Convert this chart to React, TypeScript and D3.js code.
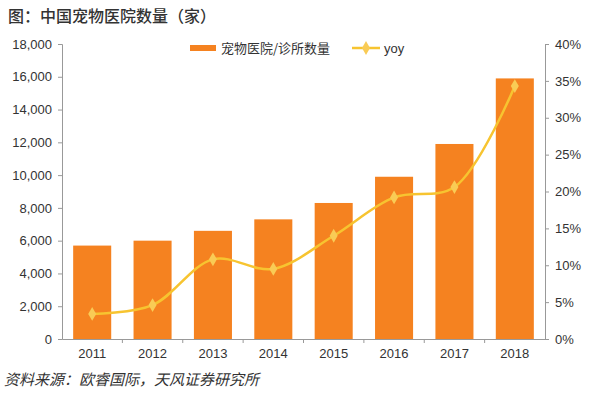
import React, { useEffect, useRef } from 'react';
import * as d3 from 'd3';

const years = ['2011', '2012', '2013', '2014', '2015', '2016', '2017', '2018'];
const hospitals = [5700, 6000, 6600, 7300, 8300, 9900, 11900, 15900];
const yoy = [3.4, 4.6, 10.8, 9.5, 14.0, 19.2, 20.6, 34.3];
const leftTicks = [0, 2000, 4000, 6000, 8000, 10000, 12000, 14000, 16000, 18000];
const rightTicks = [0, 5, 10, 15, 20, 25, 30, 35, 40];

const W = 600;
const H = 394;
const FONT = '"Noto Sans CJK SC", "Liberation Sans", Arial, sans-serif';
const NUM_FONT = '"Liberation Sans", Arial, sans-serif';

const App: React.FC = () => {
  const svgRef = useRef<SVGSVGElement | null>(null);

  useEffect(() => {
    if (!svgRef.current) return;
    const svg = d3.select(svgRef.current);
    svg.selectAll('*').remove();

    const left = 62;
    const right = 545;
    const top = 44;
    const bottom = 339;

    const x = d3.scaleBand<string>().domain(years).range([left, right]).paddingInner(0.37).paddingOuter(0.185);
    const xb = d3.scaleBand<string>().domain(years).range([left, right]);
    const y = d3.scaleLinear().domain([0, 18000]).range([bottom, top]);
    const y2 = d3.scaleLinear().domain([0, 40]).range([bottom, top]);

    // title
    svg.append('text')
      .attr('x', 8).attr('y', 22)
      .attr('font-size', 16).attr('fill', '#333')
      .attr('font-weight', 500)
      .attr('font-family', FONT)
      .text('图：中国宠物医院数量（家）');

    // bars
    svg.append('g')
      .selectAll('rect')
      .data(hospitals)
      .enter()
      .append('rect')
      .attr('x', (d, i) => x(years[i])!)
      .attr('y', (d) => y(d))
      .attr('width', x.bandwidth())
      .attr('height', (d) => bottom - y(d))
      .attr('fill', '#F58220');

    // left axis
    const gl = svg.append('g')
      .attr('transform', `translate(${left},0)`)
      .call(d3.axisLeft(y).tickValues(leftTicks).tickSize(4).tickPadding(6).tickFormat((d) => d3.format(',')(d as number)));
    gl.select('.domain').attr('stroke', '#999');
    gl.selectAll('.tick line').attr('stroke', '#999');
    gl.selectAll('text').attr('font-size', 13).attr('fill', '#333').attr('font-family', NUM_FONT);

    // right axis
    const gr = svg.append('g')
      .attr('transform', `translate(${right},0)`)
      .call(d3.axisRight(y2).tickValues(rightTicks).tickSize(4).tickPadding(6).tickFormat((d) => `${d}%`));
    gr.select('.domain').attr('stroke', '#999');
    gr.selectAll('.tick line').attr('stroke', '#999');
    gr.selectAll('text').attr('font-size', 13).attr('fill', '#333').attr('font-family', NUM_FONT);

    // bottom axis
    const gb = svg.append('g')
      .attr('transform', `translate(0,${bottom})`)
      .call(d3.axisBottom(xb).tickSize(0).tickPadding(10));
    gb.select('.domain').attr('stroke', '#999');
    gb.selectAll('text').attr('font-size', 13).attr('fill', '#333').attr('font-family', NUM_FONT);
    gb.selectAll('.sep')
      .data(years.slice(1))
      .enter()
      .append('line')
      .attr('class', 'sep')
      .attr('x1', (d) => xb(d)!).attr('x2', (d) => xb(d)!)
      .attr('y1', 0).attr('y2', 4)
      .attr('stroke', '#999');

    // yoy line
    const line = d3.line<number>()
      .x((d, i) => xb(years[i])! + xb.bandwidth() / 2)
      .y((d) => y2(d))
      .curve(d3.curveCatmullRom.alpha(0.5));
    svg.append('path')
      .datum(yoy)
      .attr('d', line)
      .attr('fill', 'none')
      .attr('stroke', '#F7C430')
      .attr('stroke-width', 2.5);

    const diamond = d3.symbol().type(d3.symbolDiamond).size(55);
    svg.append('g')
      .selectAll('path')
      .data(yoy)
      .enter()
      .append('path')
      .attr('d', diamond)
      .attr('transform', (d, i) => `translate(${xb(years[i])! + xb.bandwidth() / 2},${y2(d)})`)
      .attr('fill', '#F9CB55');

    // legend
    const lg = svg.append('g').attr('font-family', FONT).attr('font-size', 13).attr('fill', '#333');
    lg.append('rect').attr('x', 190).attr('y', 45).attr('width', 26).attr('height', 6).attr('fill', '#F58220');
    lg.append('text').attr('x', 221).attr('y', 53).text('宠物医院/诊所数量');
    lg.append('line').attr('x1', 352).attr('x2', 380).attr('y1', 48).attr('y2', 48)
      .attr('stroke', '#F7C430').attr('stroke-width', 2.5);
    lg.append('path').attr('d', diamond).attr('transform', 'translate(366,48)').attr('fill', '#F9CB55');
    lg.append('text').attr('x', 384).attr('y', 53).attr('font-family', NUM_FONT).text('yoy');

    // source
    svg.append('text')
      .attr('x', 4).attr('y', 385)
      .attr('font-size', 15).attr('fill', '#333')
      .attr('font-style', 'italic')
      .attr('font-family', FONT)
      .text('资料来源：欧睿国际，天风证券研究所');
  }, []);

  return (
    <svg
      ref={svgRef}
      width={W}
      height={H}
      style={{ position: 'absolute', left: 0, top: 0, background: '#fff' }}
    />
  );
};

export default App;
